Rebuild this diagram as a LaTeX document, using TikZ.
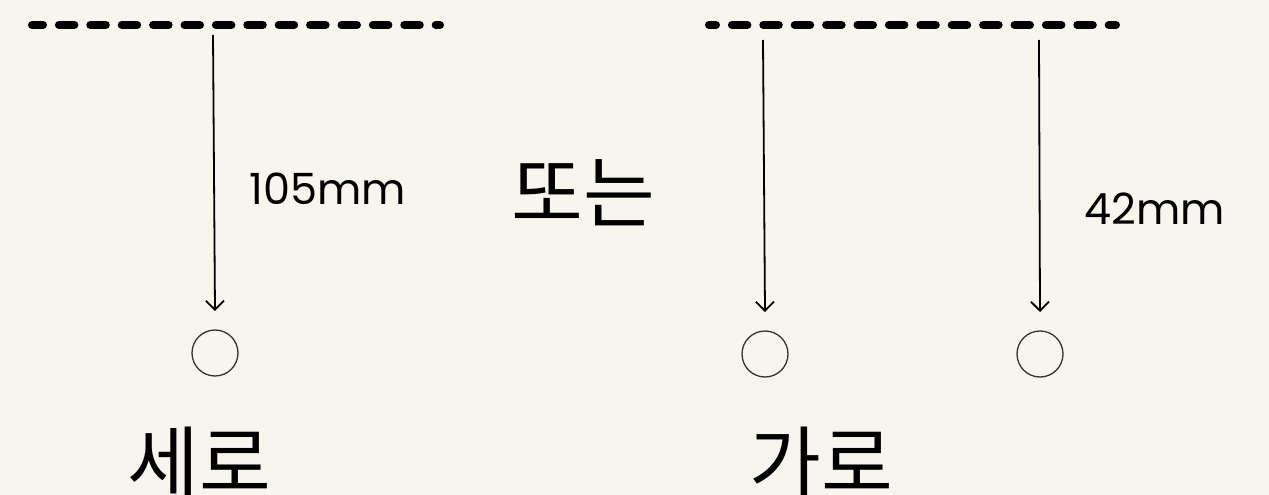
\documentclass[tikz,border=0pt]{standalone}
\usepackage{fontspec}
\setmainfont{Poppins}
\newfontfamily\kr{Noto Sans CJK KR}
\usetikzlibrary{arrows.meta}
\definecolor{bg}{HTML}{F8F5EF}
\begin{document}
\begin{tikzpicture}[x=1pt,y=-1pt,
  dashline/.style={line width=8pt,line cap=round,dash pattern=on 15.5pt off 15.9pt},
  arr/.style={line width=1.8pt,-{Straight Barb[length=9pt,width=18pt,line width=1.8pt]}},
  ring/.style={circle,draw=black!80,line width=1.3pt,minimum size=46pt,inner sep=0pt},
  lbl/.style={font=\fontsize{43}{43}\selectfont,inner sep=0pt},
  kor/.style={font=\kr\fontsize{78}{78}\selectfont,inner sep=0pt}]
\fill[bg] (0,0) rectangle (1269,495);
\useasboundingbox (0,0) rectangle (1269,495);
\coordinate (l1a) at (32,25); \coordinate (l1b) at (440,25);
\coordinate (l2a) at (709,25); \coordinate (l2b) at (1116,25);
\draw[dashline,dash phase=4.5pt] (l1a) -- (l1b);
\draw[dashline,dash phase=8.5pt] (l2a) -- (l2b);
\node[ring] (c1) at (215,353) {};
\node[ring] (c2) at (765,354) {};
\node[ring] (c3) at (1040,354) {};
\coordinate (t1) at (213,35);
\coordinate (t2) at (763,40);
\coordinate (t3) at (1039,40);
\coordinate (e1) at (215,311);
\coordinate (e2) at (765,312);
\coordinate (e3) at (1040,312);
\draw[arr] (t1) -- (e1);
\draw[arr] (t2) -- (e2);
\draw[arr] (t3) -- (e3);
\node[lbl] (d1) at (328,189) {105mm};
\node[lbl] (d2) at (1155,209) {42mm};
\node[kor] (or) at (583,193) {또는};
\node[kor] (v) at (199,462) {세로};
\node[kor] (h) at (821,462) {가로};
\end{tikzpicture}
\end{document}
